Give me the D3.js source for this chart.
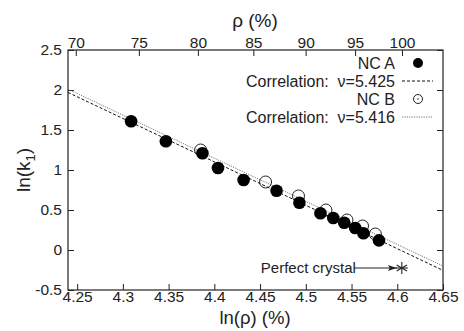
<!DOCTYPE html>
<html>
<head>
<meta charset="utf-8">
<script src="https://cdn.jsdelivr.net/npm/d3@7/dist/d3.min.js"></script>
<style>
  html, body { margin: 0; padding: 0; background: #fff; }
  svg text { font-family: 'Liberation Sans', Arial, sans-serif; fill: #222; white-space: pre; }
</style>
</head>
<body>
<div id="chart"></div>
<script>
// NC A (filled circles): [ln(rho), ln(k1)]
const ncA = [
  [4.309, 1.61], [4.347, 1.36], [4.387, 1.21], [4.404, 1.025], [4.432, 0.875],
  [4.468, 0.74], [4.493, 0.59], [4.516, 0.46], [4.530, 0.40], [4.542, 0.34],
  [4.554, 0.275], [4.563, 0.21], [4.580, 0.12]
]
// NC B (open circles)
const ncB = [
  [4.385, 1.25], [4.456, 0.85], [4.492, 0.675], [4.522, 0.50],
  [4.545, 0.375], [4.562, 0.30], [4.576, 0.20]
]
// correlation lines, end points
const fitA = [[4.24, 1.97], [4.65, -0.255]]
const fitB = [[4.24, 2.01], [4.65, -0.20]]
const perfect = [4.605, -0.225]

const xTicks = [4.25, 4.3, 4.35, 4.4, 4.45, 4.5, 4.55, 4.6, 4.65]
const yTicks = [-0.5, 0, 0.5, 1, 1.5, 2, 2.5]
const rhoTicks = [70, 75, 80, 85, 90, 95, 100]
const legendItems = [
  { label: 'NC A', kind: 'filled' },
  { label: 'Correlation:  \u03bd=5.425', kind: 'dash' },
  { label: 'NC B', kind: 'open' },
  { label: 'Correlation:  \u03bd=5.416', kind: 'dot' }
]

const W = 464, H = 331
const margin = { top: 50, right: 21, bottom: 41, left: 68 }
const innerW = W - margin.left - margin.right
const innerH = H - margin.top - margin.bottom

const svg = d3.select('#chart').append('svg').attr('width', W).attr('height', H)
const g = svg.append('g').attr('transform', `translate(${margin.left},${margin.top})`)

const x = d3.scaleLinear().domain([4.24, 4.65]).range([0, innerW])
const y = d3.scaleLinear().domain([-0.5, 2.5]).range([innerH, 0])
// top axis: rho itself, placed at ln(rho)
const xTop = d3.scaleLog().domain([Math.exp(4.24), Math.exp(4.65)]).range([0, innerW])

const fmt = d => String(d)
const styleAxis = sel => {
  sel.select('.domain').remove()
  sel.selectAll('line').attr('stroke', '#222')
  sel.selectAll('text').attr('font-size', 15.5).attr('fill', '#222')
}

g.append('g').attr('transform', `translate(0,${innerH})`)
  .call(d3.axisBottom(x).tickValues(xTicks).tickFormat(fmt).tickSize(-6).tickPadding(1))
  .call(styleAxis)
g.append('g')
  .call(d3.axisLeft(y).tickValues(yTicks).tickFormat(fmt).tickSize(-6).tickPadding(6))
  .call(styleAxis)
g.append('g').attr('transform', `translate(${innerW},0)`)
  .call(d3.axisRight(y).tickValues(yTicks).tickFormat('').tickSize(-6))
  .call(styleAxis)
g.append('g')
  .call(d3.axisTop(xTop).tickValues(rhoTicks).tickFormat(d3.format('d')).tickSize(-6).tickPadding(2))
  .call(styleAxis)

g.append('rect').attr('width', innerW).attr('height', innerH)
  .attr('fill', 'none').attr('stroke', '#222').attr('stroke-width', 1.2)

// axis titles
svg.append('text').attr('x', 255).attr('y', 27).attr('text-anchor', 'middle')
  .attr('font-size', 19).text('\u03c1 (%)')
svg.append('text').attr('x', 255).attr('y', 324).attr('text-anchor', 'middle')
  .attr('font-size', 18.5).text('ln(\u03c1) (%)')
const yl = svg.append('text').attr('transform', 'translate(30,170) rotate(-90)')
  .attr('text-anchor', 'middle').attr('font-size', 19)
yl.append('tspan').text('ln(k')
yl.append('tspan').attr('font-size', 13).attr('dy', 5).text('1')
yl.append('tspan').attr('dy', -5).text(')')

// fit lines
const line = d3.line().x(d => x(d[0])).y(d => y(d[1]))
const clip = svg.append('clipPath').attr('id', 'clip')
clip.append('rect').attr('width', innerW).attr('height', innerH)
const plot = g.append('g').attr('clip-path', 'url(#clip)')
plot.append('path').datum(fitB).attr('d', line).attr('fill', 'none')
  .attr('stroke', '#666').attr('stroke-width', 0.9).attr('stroke-dasharray', '1.2,1.2')
plot.append('path').datum(fitA).attr('d', line).attr('fill', 'none')
  .attr('stroke', '#111').attr('stroke-width', 1).attr('stroke-dasharray', '3,2')

// points
plot.selectAll('.b').data(ncB).enter().append('circle')
  .attr('cx', d => x(d[0])).attr('cy', d => y(d[1])).attr('r', 6)
  .attr('fill', 'none').attr('stroke', '#222').attr('stroke-width', 1)
plot.selectAll('.a').data(ncA).enter().append('circle')
  .attr('cx', d => x(d[0])).attr('cy', d => y(d[1])).attr('r', 6.3)
  .attr('fill', '#000')

// perfect crystal marker
const px = x(perfect[0]), py = y(perfect[1])
const star = g.append('g').attr('transform', `translate(${px},${py})`)
  .attr('stroke', '#222').attr('stroke-width', 1.1)
;[0, 60, 120].forEach(a => {
  star.append('line').attr('x1', 0).attr('y1', -6).attr('x2', 0).attr('y2', 6)
    .attr('transform', `rotate(${a})`)
})
star.append('line').attr('x1', -6).attr('x2', 6).attr('y1', 0).attr('y2', 0)
g.append('text').attr('x', px - 46).attr('y', py + 5).attr('text-anchor', 'end')
  .attr('font-size', 15).text('Perfect crystal')
g.append('line').attr('x1', px - 48).attr('y1', py).attr('x2', px - 5).attr('y2', py)
  .attr('stroke', '#222').attr('stroke-width', 1)
g.append('path').attr('d', `M${px - 5},${py} l-9,-3 l2,3 l-2,3 z`).attr('fill', '#222')

// legend
const leg = svg.append('g')
legendItems.forEach((it, i) => {
  const cy = 63 + i * 18
  leg.append('text').attr('x', 395).attr('y', cy + 5.5).attr('text-anchor', 'end')
    .attr('font-size', 16).text(it.label)
  if (it.kind === 'filled') {
    leg.append('circle').attr('cx', 418).attr('cy', cy).attr('r', 5).attr('fill', '#000')
  } else if (it.kind === 'open') {
    leg.append('circle').attr('cx', 418).attr('cy', cy).attr('r', 4.5)
      .attr('fill', 'none').attr('stroke', '#222')
    leg.append('circle').attr('cx', 418).attr('cy', cy).attr('r', 0.8).attr('fill', '#222')
  } else {
    leg.append('line').attr('x1', 402).attr('x2', 433).attr('y1', cy).attr('y2', cy)
      .attr('stroke', it.kind === 'dash' ? '#111' : '#666')
      .attr('stroke-width', it.kind === 'dash' ? 1 : 0.9)
      .attr('stroke-dasharray', it.kind === 'dash' ? '3,2' : '1.2,1.2')
  }
})
</script>
</body>
</html>
